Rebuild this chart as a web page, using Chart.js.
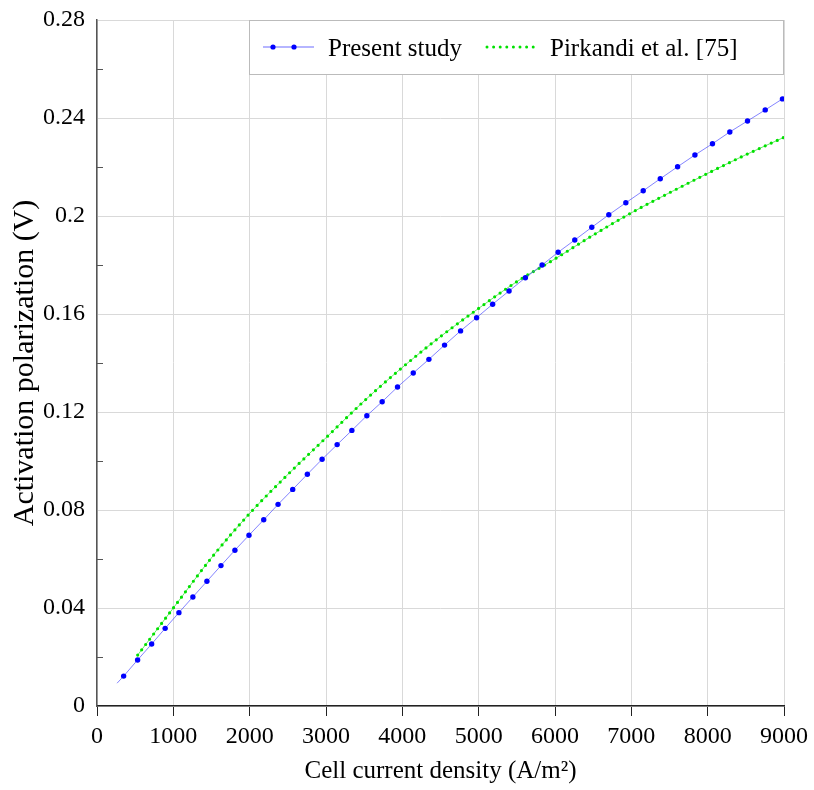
<!DOCTYPE html>
<html>
<head>
<meta charset="utf-8">
<script src="https://cdn.jsdelivr.net/npm/chart.js@4"></script>
<style>
  body { margin: 0; background: #fff; }
  #wrap { width: 814px; height: 790px; }
</style>
</head>
<body>
<div id="wrap"><canvas id="polChart" width="814" height="790"></canvas></div>
<script>
// values
var presentX = [263, 349, 532, 716, 893, 1073, 1256, 1440, 1624, 1807, 1991, 2184, 2372, 2564, 2756, 2949, 3146, 3339, 3535, 3736, 3937, 4143, 4348, 4553, 4763, 4973, 5183, 5398, 5612, 5831, 6041, 6259, 6482, 6705, 6928, 7156, 7379, 7606, 7833, 8063, 8290, 8522, 8754, 8980];
var presentY = [0.0093, 0.0122, 0.0188, 0.0253, 0.0317, 0.0381, 0.0445, 0.0509, 0.0573, 0.0636, 0.0697, 0.0760, 0.0823, 0.0884, 0.0946, 0.1007, 0.1067, 0.1125, 0.1185, 0.1242, 0.1302, 0.1359, 0.1415, 0.1473, 0.1531, 0.1585, 0.1640, 0.1694, 0.1748, 0.1800, 0.1852, 0.1902, 0.1954, 0.2005, 0.2054, 0.2103, 0.2152, 0.2201, 0.2249, 0.2295, 0.2343, 0.2388, 0.2433, 0.2478];

var pirkandiX = [533, 1000, 1500, 2000, 2500, 3000, 3500, 4000, 4500, 5000, 5500, 6000, 6500, 7000, 7500, 8000, 8500, 9000];
var pirkandiY = [0.0208, 0.0400, 0.0605, 0.0786, 0.0945, 0.1095, 0.1245, 0.1382, 0.1508, 0.1623, 0.1732, 0.1825, 0.1922, 0.2013, 0.2095, 0.2174, 0.2250, 0.2321];

var xTicks = [0, 1000, 2000, 3000, 4000, 5000, 6000, 7000, 8000, 9000];
var yTicks = [0, 0.04, 0.08, 0.12, 0.16, 0.2, 0.24, 0.28];
var yMinorTicks = [0.02, 0.06, 0.1, 0.14, 0.18, 0.22, 0.26];

var seriesNames = ['Present study', 'Pirkandi et al. [75]'];

var serif = "'Liberation Serif', 'Times New Roman', serif";
var blue = '#0000ff';
var green = 'rgb(0,225,0)';

function toPoints(xs, ys) {
    return xs.map(function (x, i) { return { x: x, y: ys[i] }; });
}

// small ticks on the y axis + boxed legend
var extras = {
    id: 'extras',
    afterDraw: function (chart) {
        var ctx = chart.ctx;
        var area = chart.chartArea;
        var ys = chart.scales.y;
        ctx.save();
        ctx.strokeStyle = '#555';
        ctx.lineWidth = 1;
        yMinorTicks.forEach(function (v) {
            var py = Math.round(ys.getPixelForValue(v)) + 0.5;
            ctx.beginPath();
            ctx.moveTo(area.left, py);
            ctx.lineTo(area.left + 6, py);
            ctx.stroke();
        });

        var bx = area.right - 535, by = area.top, bw = 535, bh = 55;
        ctx.fillStyle = '#fff';
        ctx.fillRect(bx, by, bw, bh);
        ctx.strokeStyle = '#bbb';
        ctx.strokeRect(bx + 0.5, by + 0.5, bw - 1, bh - 1);

        var ly = by + 27;
        ctx.strokeStyle = 'rgba(70,70,255,0.8)';
        ctx.lineWidth = 1;
        ctx.beginPath();
        ctx.moveTo(bx + 14, ly);
        ctx.lineTo(bx + 65, ly);
        ctx.stroke();
        ctx.fillStyle = blue;
        [bx + 24, bx + 45].forEach(function (px) {
            ctx.beginPath();
            ctx.arc(px, ly, 2.6, 0, Math.PI * 2);
            ctx.fill();
        });

        ctx.strokeStyle = green;
        ctx.lineWidth = 3;
        ctx.lineCap = 'round';
        ctx.setLineDash([0, 6.6]);
        ctx.beginPath();
        ctx.moveTo(bx + 238, ly);
        ctx.lineTo(bx + 287, ly);
        ctx.stroke();
        ctx.setLineDash([]);

        ctx.fillStyle = '#000';
        ctx.font = '25px ' + serif;
        ctx.textBaseline = 'alphabetic';
        ctx.fillText(seriesNames[0], bx + 79, by + 36);
        ctx.fillText(seriesNames[1], bx + 301, by + 36);
        ctx.restore();
    }
};

var polChart = new Chart(document.getElementById('polChart').getContext('2d'), {
    type: 'scatter',
    data: {
        datasets: [{
            label: seriesNames[1],
            data: toPoints(pirkandiX, pirkandiY),
            showLine: true,
            borderColor: 'rgba(0,220,0,0.6)',
            borderWidth: 1,
            pointRadius: 0,
            cubicInterpolationMode: 'monotone',
            order: 3
        }, {
            label: seriesNames[1] + ' dots',
            data: toPoints(pirkandiX, pirkandiY),
            showLine: true,
            borderColor: green,
            borderWidth: 3.2,
            borderDash: [0, 6.6],
            borderCapStyle: 'round',
            pointRadius: 0,
            cubicInterpolationMode: 'monotone',
            order: 2
        }, {
            label: seriesNames[0],
            data: toPoints(presentX, presentY),
            showLine: true,
            borderColor: 'rgba(80,80,255,0.7)',
            borderWidth: 1,
            pointRadius: presentX.map(function (x, i) { return i === 0 ? 0 : 2.7; }),
            pointBackgroundColor: blue,
            pointBorderWidth: 0,
            tension: 0,
            order: 1
        }]
    },
    options: {
        responsive: false,
        animation: false,
        devicePixelRatio: 1,
        layout: { padding: { top: 20, right: 30, left: 0, bottom: 0 } },
        plugins: {
            legend: { display: false },
            tooltip: { enabled: false }
        },
        scales: {
            x: {
                type: 'linear',
                min: 0,
                max: 9000,
                afterBuildTicks: function (s) { s.ticks = xTicks.map(function (v) { return { value: v }; }); },
                afterFit: function (s) { s.height = 84; s.paddingLeft = 0; s.paddingRight = 0; },
                ticks: {
                    color: '#000',
                    font: { family: serif, size: 24 },
                    padding: 6,
                    maxRotation: 0,
                    callback: function (v) { return String(v); }
                },
                grid: { color: '#d9d9d9', lineWidth: 1, tickColor: '#222', tickLength: 10 },
                border: { color: '#222', width: 1.5 },
                title: {
                    display: true,
                    text: 'Cell current density (A/m²)',
                    color: '#000',
                    font: { family: serif, size: 25 },
                    padding: { top: 0, bottom: 4 }
                }
            },
            y: {
                min: 0,
                max: 0.28,
                afterBuildTicks: function (s) { s.ticks = yTicks.map(function (v) { return { value: v }; }); },
                afterFit: function (s) { s.width = 97; s.paddingTop = 0; s.paddingBottom = 0; },
                ticks: {
                    color: '#000',
                    font: { family: serif, size: 24 },
                    padding: 12,
                    callback: function (v) { return String(+v.toFixed(2)); }
                },
                grid: { color: '#d9d9d9', lineWidth: 1, drawTicks: false },
                border: { color: '#555', width: 1.5 },
                title: {
                    display: true,
                    text: 'Activation polarization (V)',
                    color: '#000',
                    font: { family: serif, size: 30 },
                    padding: { top: 7, bottom: 0 }
                }
            }
        }
    },
    plugins: [extras]
});
</script>
</body>
</html>
